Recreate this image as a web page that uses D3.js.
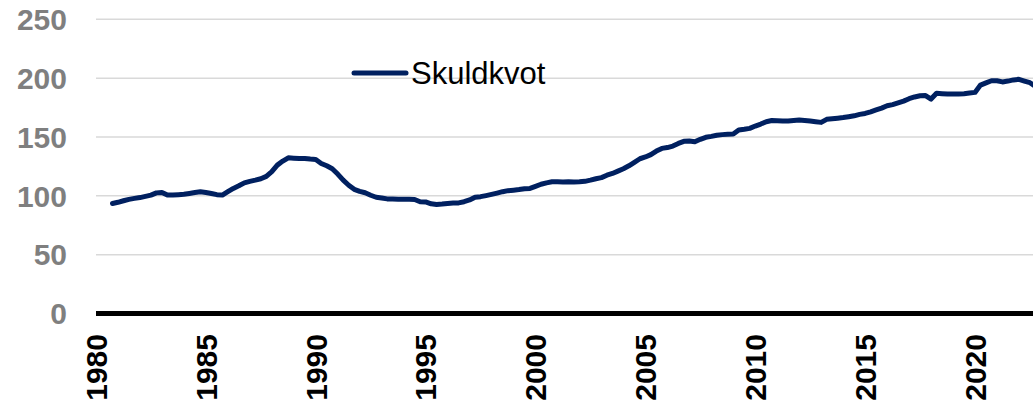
<!DOCTYPE html>
<html>
<head>
<meta charset="utf-8">
<script src="https://cdn.jsdelivr.net/npm/d3@7"></script>
<style>
  body { margin: 0; background: #fff; }
  svg { display: block; font-family: "Liberation Sans", Arial, sans-serif; }
</style>
</head>
<body>
<div id="chart"></div>
<script>
// quarterly debt ratio, first point 1980 Q4
var startYear = 1980.75;
var skuldkvot = [
    93.5,
    94.5, 95.8, 97.0, 97.8,
    98.5, 99.5, 100.6, 102.5,
    102.9, 100.6, 100.8, 101.0,
    101.3, 102.0, 102.8, 103.4,
    102.8, 102.0, 101.0, 100.6,
    103.5, 106.3, 108.5, 111.0,
    112.3, 113.3, 114.5, 116.5,
    120.5, 126.1, 129.5, 132.3,
    132.0, 131.8, 131.8, 131.2,
    130.8, 127.5, 125.5, 123.0,
    118.5, 113.3, 109.0, 105.5,
    103.8, 102.6, 100.5, 98.8,
    98.2, 97.4, 97.2, 97.0,
    97.0, 97.0, 96.9, 95.0,
    94.8, 93.2, 92.7, 93.0,
    93.5, 93.8, 94.0, 95.0,
    96.5, 98.8, 99.3, 100.2,
    101.2, 102.3, 103.5, 104.4,
    104.8, 105.3, 106.0, 106.3,
    108.0, 109.8, 111.0, 111.9,
    111.9, 111.8, 111.9, 111.8,
    111.9, 112.3, 113.3, 114.5,
    115.5, 117.5, 119.0, 121.0,
    123.0, 125.5, 128.5, 131.5,
    133.0, 135.0, 138.0, 140.3,
    141.0, 142.3, 144.5, 146.3,
    146.5, 145.9, 148.0, 149.7,
    150.5, 151.5, 152.0, 152.3,
    152.5, 155.9, 156.5, 157.3,
    159.3, 161.0, 163.0, 164.0,
    163.8, 163.5, 163.5, 164.0,
    164.4, 164.0, 163.5, 163.0,
    162.4, 165.0, 165.5, 166.0,
    166.5, 167.2, 168.0, 169.2,
    170.0, 171.4, 173.0, 174.5,
    176.5, 177.5, 179.0, 180.5,
    182.5, 184.0, 185.0, 185.2,
    182.2, 187.1, 186.8, 186.5,
    186.5, 186.5, 186.8, 187.3,
    187.9, 194.1, 196.0, 197.8,
    197.8, 196.8, 197.5, 198.5,
    199.0, 197.5, 196.1, 193.0
];
var yearTicks = [1980, 1985, 1990, 1995, 2000, 2005, 2010, 2015, 2020];
var valueTicks = [0, 50, 100, 150, 200, 250];
var seriesName = "Skuldkvot";

var width = 1033, height = 410;
var plotLeft = 96, plotRight = 1033;

var svg = d3.select("#chart").append("svg")
    .attr("width", width)
    .attr("height", height);

var x = d3.scaleLinear().domain([1980, 2020]).range([96, 975]);
var y = d3.scaleLinear().domain([0, 250]).range([313.5, 19.3]);

// gridlines
svg.selectAll("line.grid")
    .data(valueTicks.filter(function(d) { return d > 0; }))
    .enter().append("line")
    .attr("class", "grid")
    .attr("x1", plotLeft)
    .attr("x2", plotRight)
    .attr("y1", function(d) { return y(d); })
    .attr("y2", function(d) { return y(d); })
    .attr("stroke", "#d9d9d9")
    .attr("stroke-width", 1.5);

// y labels
svg.selectAll("text.ylab")
    .data(valueTicks)
    .enter().append("text")
    .attr("class", "ylab")
    .attr("x", 67)
    .attr("y", function(d) { return y(d); })
    .attr("dy", "0.36em")
    .attr("text-anchor", "end")
    .attr("font-size", 30)
    .attr("font-weight", "bold")
    .attr("fill", "#7f7f7f")
    .text(function(d) { return d; });

// x axis line
svg.append("line")
    .attr("x1", plotLeft)
    .attr("x2", plotRight)
    .attr("y1", y(0))
    .attr("y2", y(0))
    .attr("stroke", "#000")
    .attr("stroke-width", 5);

// x labels
svg.selectAll("text.xlab")
    .data(yearTicks)
    .enter().append("text")
    .attr("class", "xlab")
    .attr("transform", function(d) { return "translate(" + x(d) + ",334) rotate(-90)"; })
    .attr("dy", "0.36em")
    .attr("text-anchor", "end")
    .attr("font-size", 30)
    .attr("font-weight", "bold")
    .attr("fill", "#000")
    .text(function(d) { return d; });

// series line
var line = d3.line()
    .x(function(d, i) { return x(startYear + i / 4); })
    .y(function(d) { return y(d); });

svg.append("path")
    .datum(skuldkvot)
    .attr("d", line)
    .attr("fill", "none")
    .attr("stroke", "#002060")
    .attr("stroke-width", 5)
    .attr("stroke-linejoin", "round")
    .attr("stroke-linecap", "round");

// legend
var legend = svg.append("g").attr("class", "legend");
legend.append("line")
    .attr("x1", 354)
    .attr("x2", 406)
    .attr("y1", 73)
    .attr("y2", 73)
    .attr("stroke", "#002060")
    .attr("stroke-width", 5)
    .attr("stroke-linecap", "round");
legend.append("text")
    .attr("x", 411)
    .attr("y", 83.5)
    .attr("font-size", 31)
    .attr("fill", "#000")
    .text(seriesName);
</script>
</body>
</html>
